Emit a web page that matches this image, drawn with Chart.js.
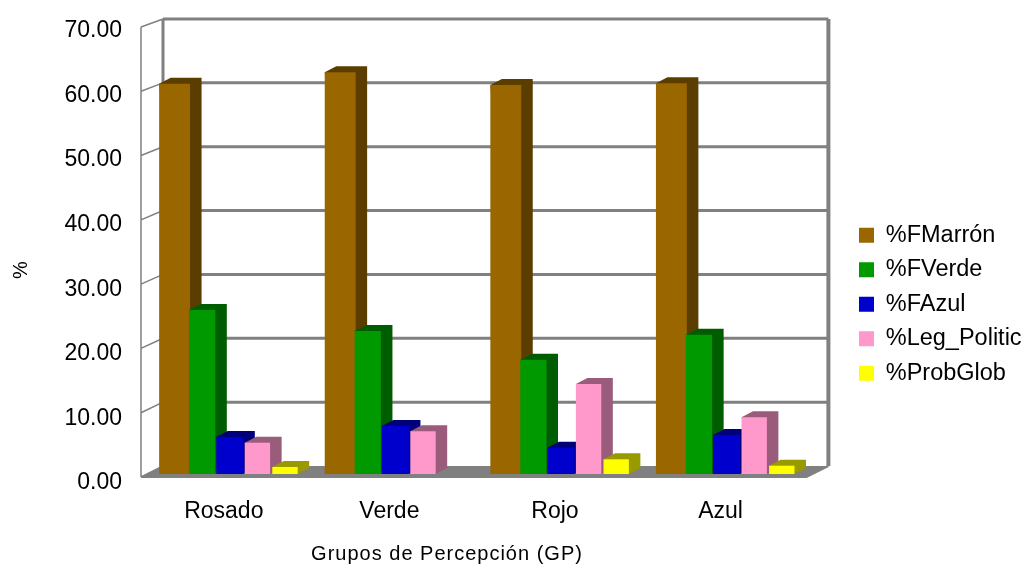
<!DOCTYPE html>
<html>
<head>
<meta charset="utf-8">
<title>Grupos de Percepción</title>
<script src="https://cdn.jsdelivr.net/npm/chart.js@4"></script>
<style>
    html, body { margin: 0; background: #fff; }
    canvas { display: block; }
</style>
</head>
<body>
<canvas id="grafico" width="1024" height="565"></canvas>
<script>
const grupos = ['Rosado', 'Verde', 'Rojo', 'Azul'];

const fMarron = [61.1, 62.9, 60.9, 61.2];
const fVerde = [25.7, 22.4, 17.9, 21.8];
const fAzul = [5.8, 7.5, 4.1, 6.1];
const legPolitic = [4.9, 6.7, 14.1, 8.9];
const probGlob = [1.1, 0, 2.3, 1.3];

const yMax = 70;
const yPaso = 10;

const GRIS = '#808080';
const FUENTE = '"Liberation Sans", Arial, sans-serif';

// profundidad de las barras y de la caja 3D
const barraDx = 11.5;
const barraDy = 6;
const fondoDx = 16;
const fondoDy = 8;
const frenteDx = -6;

// paredes, suelo y rejilla, detras de las barras
function dibujarCaja(chart) {
    const { ctx, chartArea: area, scales } = chart;
    const y = scales.y;
    const marcas = scales.yEtiquetas.ticks;
    const yFondo = v => y.getPixelForValue(v) - fondoDy;
    const yFrente = v => y.getPixelForValue(v) + 3 * (1 - v / yMax);
    const izq = area.left + fondoDx;
    const der = area.right + fondoDx + 3;
    const frenteIzq = area.left + frenteDx;
    const frenteDer = area.right - 3;

    ctx.save();
    ctx.fillStyle = GRIS;
    ctx.beginPath();
    ctx.moveTo(frenteIzq, yFrente(0));
    ctx.lineTo(frenteDer, yFrente(0));
    ctx.lineTo(der, yFondo(0));
    ctx.lineTo(izq, yFondo(0));
    ctx.closePath();
    ctx.fill();

    ctx.strokeStyle = GRIS;
    ctx.lineWidth = 3;
    ctx.beginPath();
    marcas.forEach(t => {
        if (t.value === 0) return;
        ctx.moveTo(izq, yFondo(t.value));
        ctx.lineTo(der, yFondo(t.value));
    });
    ctx.stroke();

    ctx.lineWidth = 3;
    ctx.beginPath();
    ctx.moveTo(izq, yFondo(0));
    ctx.lineTo(izq, yFondo(yMax));
    ctx.stroke();
    ctx.lineWidth = 4;
    ctx.beginPath();
    ctx.moveTo(der, yFondo(0));
    ctx.lineTo(der, yFondo(yMax));
    ctx.stroke();

    // pared izquierda
    ctx.lineWidth = 1.5;
    ctx.beginPath();
    ctx.moveTo(frenteIzq, yFrente(yMax));
    ctx.lineTo(frenteIzq, yFrente(0));
    marcas.forEach(t => {
        ctx.moveTo(frenteIzq, yFrente(t.value));
        ctx.lineTo(izq, yFondo(t.value));
    });
    ctx.stroke();

    ctx.lineWidth = 2;
    ctx.beginPath();
    ctx.moveTo(frenteIzq, yFrente(0));
    ctx.lineTo(frenteDer, yFrente(0));
    ctx.lineTo(der, yFondo(0));
    ctx.stroke();
    ctx.restore();
}

// cara superior y lateral de cada barra
function dibujarCaras(chart, meta) {
    const { ctx } = chart;
    const ds = chart.data.datasets[meta.index];
    ctx.save();
    meta.data.forEach((barra, i) => {
        if (!ds.data[i]) return;
        const xi = barra.x - barra.width / 2;
        const xd = barra.x + barra.width / 2;
        const arriba = barra.y;
        const base = barra.base;

        ctx.fillStyle = ds.colorSombra;
        ctx.beginPath();
        ctx.moveTo(xi, arriba);
        ctx.lineTo(xi + barraDx, arriba - barraDy);
        ctx.lineTo(xd + barraDx, arriba - barraDy);
        ctx.lineTo(xd + barraDx, base - barraDy);
        ctx.lineTo(xd, base);
        ctx.closePath();
        ctx.fill();
    });
    ctx.restore();
}

// textos de los ejes
function dibujarTitulos(chart) {
    const { ctx } = chart;
    ctx.save();
    ctx.fillStyle = '#000';
    ctx.textAlign = 'center';
    ctx.textBaseline = 'middle';
    ctx.font = '20px ' + FUENTE;
    ctx.letterSpacing = '1px';
    ctx.fillText('Grupos de Percepción (GP)', 447, 554);
    ctx.letterSpacing = '0px';
    ctx.translate(21, 270);
    ctx.rotate(-Math.PI / 2);
    ctx.fillText('%', 0, 0);
    ctx.restore();
}

const caja3d = {
    id: 'caja3d',
    afterLayout(chart) {
        // la leyenda va un poco mas a la derecha y abajo
        const leyenda = chart.legend;
        leyenda.left = 848;
        leyenda.right = 1024;
        leyenda.width = 176;
        leyenda.top = 212.5;
    },
    beforeDatasetsDraw(chart) {
        dibujarCaja(chart);
        // cada serie tapa a la anterior, de izquierda a derecha
        chart.data.datasets.forEach((ds, i) => {
            const meta = chart.getDatasetMeta(i);
            dibujarCaras(chart, meta);
            meta.controller.draw();
        });
        return false;
    },
    afterDraw: dibujarTitulos
};

function serie(label, data, color, colorSombra, ancho) {
    return {
        label: label,
        data: data,
        backgroundColor: color,
        borderWidth: 0,
        colorSombra: colorSombra,
        barPercentage: ancho,
        categoryPercentage: 5 / 6
    };
}

new Chart(document.getElementById('grafico'), {
    type: 'bar',
    data: {
        labels: grupos,
        datasets: [
            serie('%FMarrón', fMarron, '#996600', '#5c3d00', 1.12),
            serie('%FVerde', fVerde, '#009900', '#005c00', 0.95),
            serie('%FAzul', fAzul, '#0000cc', '#00007a', 0.98),
            serie('%Leg_Politic', legPolitic, '#ff99cc', '#995c7a', 0.92),
            serie('%ProbGlob', probGlob, '#ffff00', '#999900', 0.92)
        ]
    },
    options: {
        responsive: false,
        animation: false,
        layout: { padding: { top: 31, right: 31 } },
        scales: {
            x: {
                grid: { display: false, drawTicks: false },
                border: { display: false },
                ticks: {
                    color: '#000',
                    font: { family: FUENTE, size: 23 },
                    padding: 15,
                    labelOffset: -6,
                    maxRotation: 0
                },
                afterFit(scale) { scale.height = 82; }
            },
            // plano de las barras: el cero queda por encima del eje frontal
            y: {
                display: false,
                min: -1.41,
                max: 69.37
            },
            // eje frontal con los numeros
            yEtiquetas: {
                position: 'left',
                min: 0,
                max: yMax,
                grid: { display: false, drawTicks: false },
                border: { display: false },
                ticks: {
                    stepSize: yPaso,
                    color: '#000',
                    font: { family: FUENTE, size: 23 },
                    padding: 25,
                    callback: v => v.toFixed(2)
                },
                afterFit(scale) {
                    scale.width = 147;
                    scale.paddingTop = 0;
                    scale.paddingBottom = 0;
                }
            }
        },
        plugins: {
            legend: {
                position: 'right',
                align: 'start',
                labels: {
                    color: '#000',
                    font: { family: FUENTE, size: 23.5 },
                    boxWidth: 15,
                    boxHeight: 15,
                    padding: 11
                }
            },
            tooltip: { enabled: false }
        }
    },
    plugins: [caja3d]
});
</script>
</body>
</html>
